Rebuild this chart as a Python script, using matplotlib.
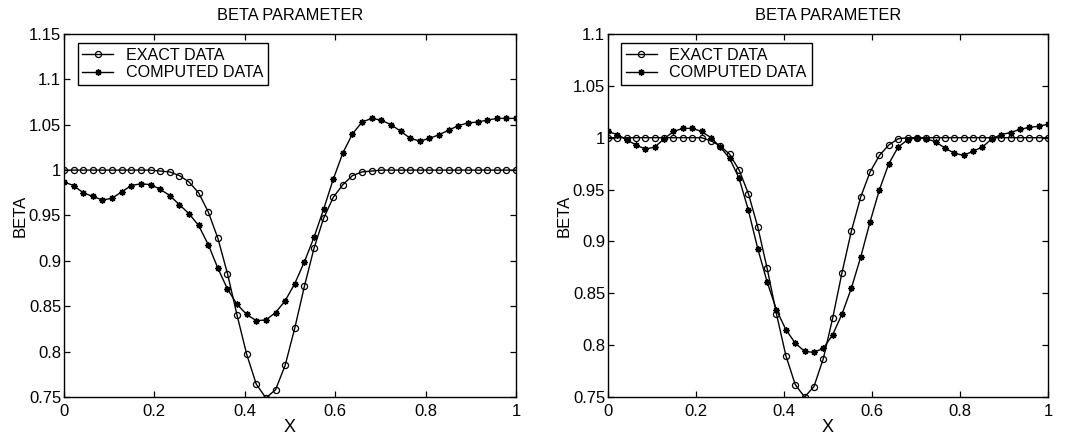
import numpy as np
import matplotlib
matplotlib.use("Agg")
import matplotlib.pyplot as plt

plt.rcParams['font.family'] = ['Liberation Sans', 'DejaVu Sans']

# 48 sample points on [0, 1]
x = np.linspace(0, 1, 48)

exact_left = [1.0] * 10 + [
    0.999, 0.998, 0.994, 0.987, 0.975, 0.954, 0.925, 0.886, 0.840, 0.797,
    0.764, 0.749, 0.758, 0.785, 0.826, 0.872, 0.914, 0.947, 0.970, 0.984,
    0.994, 0.998, 0.999] + [1.0] * 15
computed_left = [
    0.987, 0.983, 0.975, 0.971, 0.967, 0.969, 0.976, 0.983, 0.985, 0.984,
    0.979, 0.972, 0.962, 0.952, 0.939, 0.918, 0.892, 0.869, 0.852, 0.841,
    0.834, 0.835, 0.843, 0.856, 0.875, 0.899, 0.926, 0.957, 0.990, 1.019,
    1.040, 1.053, 1.057, 1.055, 1.050, 1.043, 1.035, 1.032, 1.035, 1.039,
    1.044, 1.049, 1.052, 1.053, 1.055, 1.057, 1.057, 1.057]

exact_right = [1.0] * 11 + [
    0.997, 0.992, 0.984, 0.969, 0.946, 0.914, 0.874, 0.830, 0.790, 0.762,
    0.750, 0.760, 0.787, 0.826, 0.870, 0.910, 0.943, 0.967, 0.983, 0.993,
    0.999] + [1.0] * 16
computed_right = [
    1.006, 1.003, 0.998, 0.993, 0.989, 0.991, 0.999, 1.006, 1.009, 1.009,
    1.006, 1.000, 0.991, 0.980, 0.961, 0.930, 0.893, 0.861, 0.834, 0.815,
    0.802, 0.794, 0.793, 0.797, 0.810, 0.830, 0.855, 0.885, 0.919, 0.950,
    0.975, 0.991, 0.998, 1.000, 0.999, 0.996, 0.990, 0.985, 0.983, 0.987,
    0.991, 0.999, 1.003, 1.005, 1.008, 1.010, 1.011, 1.013]

panels = [
    (exact_left, computed_left, (0.75, 1.15),
     [0.75, 0.8, 0.85, 0.9, 0.95, 1, 1.05, 1.1, 1.15],
     ['0.75', '0.8', '0.85', '0.9', '0.95', '1', '1.05', '1.1', '1.15']),
    (exact_right, computed_right, (0.75, 1.1),
     [0.75, 0.8, 0.85, 0.9, 0.95, 1, 1.05, 1.1],
     ['0.75', '0.8', '0.85', '0.9', '0.95', '1', '1.05', '1.1']),
]
xticks = [0, 0.2, 0.4, 0.6, 0.8, 1]
xticklabels = ['0', '0.2', '0.4', '0.6', '0.8', '1']

fig = plt.figure(figsize=(10.73, 4.38), dpi=100)
rects = [[0.0596, 0.0936, 0.4213, 0.8288], [0.5666, 0.0936, 0.4101, 0.8288]]

for rect, (ex, co, ylim, yt, ytl) in zip(rects, panels):
    ax = fig.add_axes(rect)
    ax.plot(x, ex, '-', color='black', lw=1.0, marker='o', ms=4.4,
            mfc='none', mec='black', mew=0.9, label='EXACT DATA')
    ax.plot(x, co, '-', color='black', lw=1.0, marker=(8, 2, 0), ms=4.6,
            mfc='black', mec='black', mew=1.0, label='COMPUTED DATA')
    ax.set_xlim(0, 1)
    ax.set_ylim(*ylim)
    ax.set_xticks(xticks)
    ax.set_xticklabels(xticklabels)
    ax.set_yticks(yt)
    ax.set_yticklabels(ytl)
    ax.tick_params(direction='in', top=True, right=True, length=4,
                   width=0.9, labelsize=12, pad=2)
    ax.tick_params(axis='x', pad=5)
    for s in ax.spines.values():
        s.set_linewidth(1.0)
    ax.set_title('BETA PARAMETER', fontsize=11.8, pad=10)
    ax.set_xlabel('X', fontsize=13, labelpad=0)
    ax.set_ylabel('BETA', fontsize=12, labelpad=1)
    leg = ax.legend(loc='upper left', bbox_to_anchor=(0.03, 0.975),
                    fontsize=11.6, fancybox=False, edgecolor='black',
                    framealpha=1, handlelength=1.9, handletextpad=0.8,
                    borderpad=0.3, labelspacing=0.15, borderaxespad=0)
    leg.get_frame().set_linewidth(1.0)

fig.savefig('out.png', dpi=100)
